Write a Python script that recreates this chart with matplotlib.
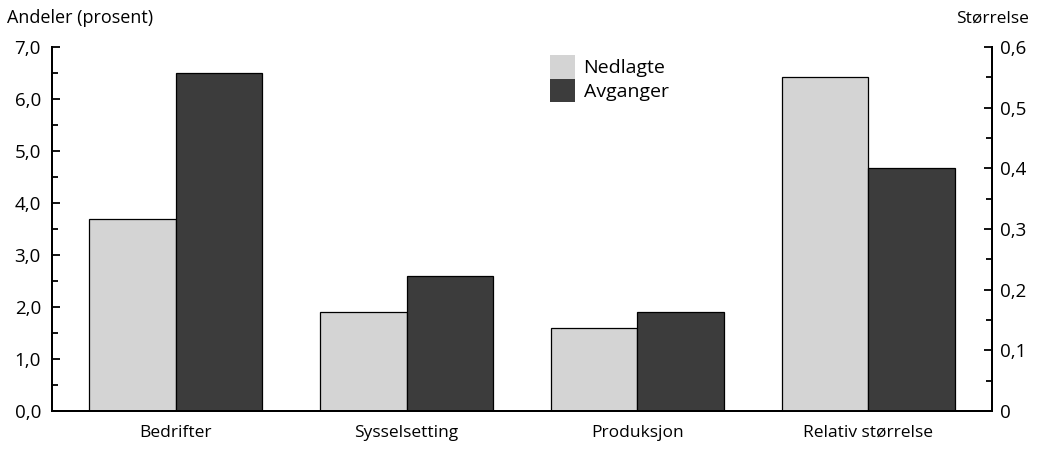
import matplotlib.pyplot as plt
import numpy as np
from matplotlib.ticker import FuncFormatter, MultipleLocator

plt.rcParams['font.family'] = ['Open Sans', 'DejaVu Sans']

# data
categories = ['Bedrifter', 'Sysselsetting', 'Produksjon', 'Relativ størrelse']
nedlagte_pct = [3.7, 1.9, 1.6]       # left axis (prosent)
avganger_pct = [6.5, 2.6, 1.9]
nedlagte_rel = 0.55                  # right axis (størrelse)
avganger_rel = 0.40

light = '#d4d4d4'
dark = '#3c3c3c'
width = 0.375

fig = plt.figure(figsize=(10.4, 4.55), dpi=100)
ax = fig.add_axes([0.05, 0.0967, 0.9038, 0.80])
ax2 = ax.twinx()

x = np.arange(len(categories))
# share-based bars on the left axis
ax.bar(x[:3] - width / 2, nedlagte_pct, width, color=light, edgecolor='black', linewidth=0.9, label='Nedlagte')
ax.bar(x[:3] + width / 2, avganger_pct, width, color=dark, edgecolor='black', linewidth=0.9, label='Avganger')
# relative size on the right axis
ax2.bar(x[3] - width / 2, nedlagte_rel, width, color=light, edgecolor='black', linewidth=0.9)
ax2.bar(x[3] + width / 2, avganger_rel, width, color=dark, edgecolor='black', linewidth=0.9)

ax.set_xlim(-0.535, 3.535)
ax.set_ylim(0, 7)
ax2.set_ylim(0, 0.6)

ax.set_xticks(x)
ax.set_xticklabels(categories, fontsize=12.5)
ax.tick_params(axis='x', length=0, pad=10)

ax.yaxis.set_major_locator(MultipleLocator(1))
ax.yaxis.set_minor_locator(MultipleLocator(0.5))
ax.yaxis.set_major_formatter(FuncFormatter(lambda v, p: f'{v:.1f}'.replace('.', ',')))
ax.tick_params(axis='y', which='major', direction='in', length=6, width=1.3, labelsize=13.5, pad=8)
ax.tick_params(axis='y', which='minor', direction='in', length=4, width=1.3)

ax2.yaxis.set_major_locator(MultipleLocator(0.1))
ax2.yaxis.set_minor_locator(MultipleLocator(0.05))
ax2.yaxis.set_major_formatter(FuncFormatter(lambda v, p: '0' if abs(v) < 1e-9 else f'{v:.1f}'.replace('.', ',')))
ax2.tick_params(axis='y', which='major', direction='in', length=6, width=1.3, labelsize=13.5, pad=6)
ax2.tick_params(axis='y', which='minor', direction='in', length=4, width=1.3)

for a in (ax, ax2):
    a.spines['top'].set_visible(False)
    for s in ('left', 'right', 'bottom'):
        a.spines[s].set_linewidth(1.4)

fig.text(0.007, 0.96, 'Andeler (prosent)', fontsize=13, va='center', ha='left')
fig.text(0.989, 0.96, 'Størrelse', fontsize=12.5, va='center', ha='right')

leg = ax.legend(loc='upper left', bbox_to_anchor=(0.52, 1.005), frameon=False, fontsize=14,
                handlelength=1.25, handleheight=1.5, handletextpad=0.45, labelspacing=0.0, borderpad=0)
for h in leg.legend_handles:
    h.set_linewidth(0)

fig.savefig('out.png', dpi=100)
